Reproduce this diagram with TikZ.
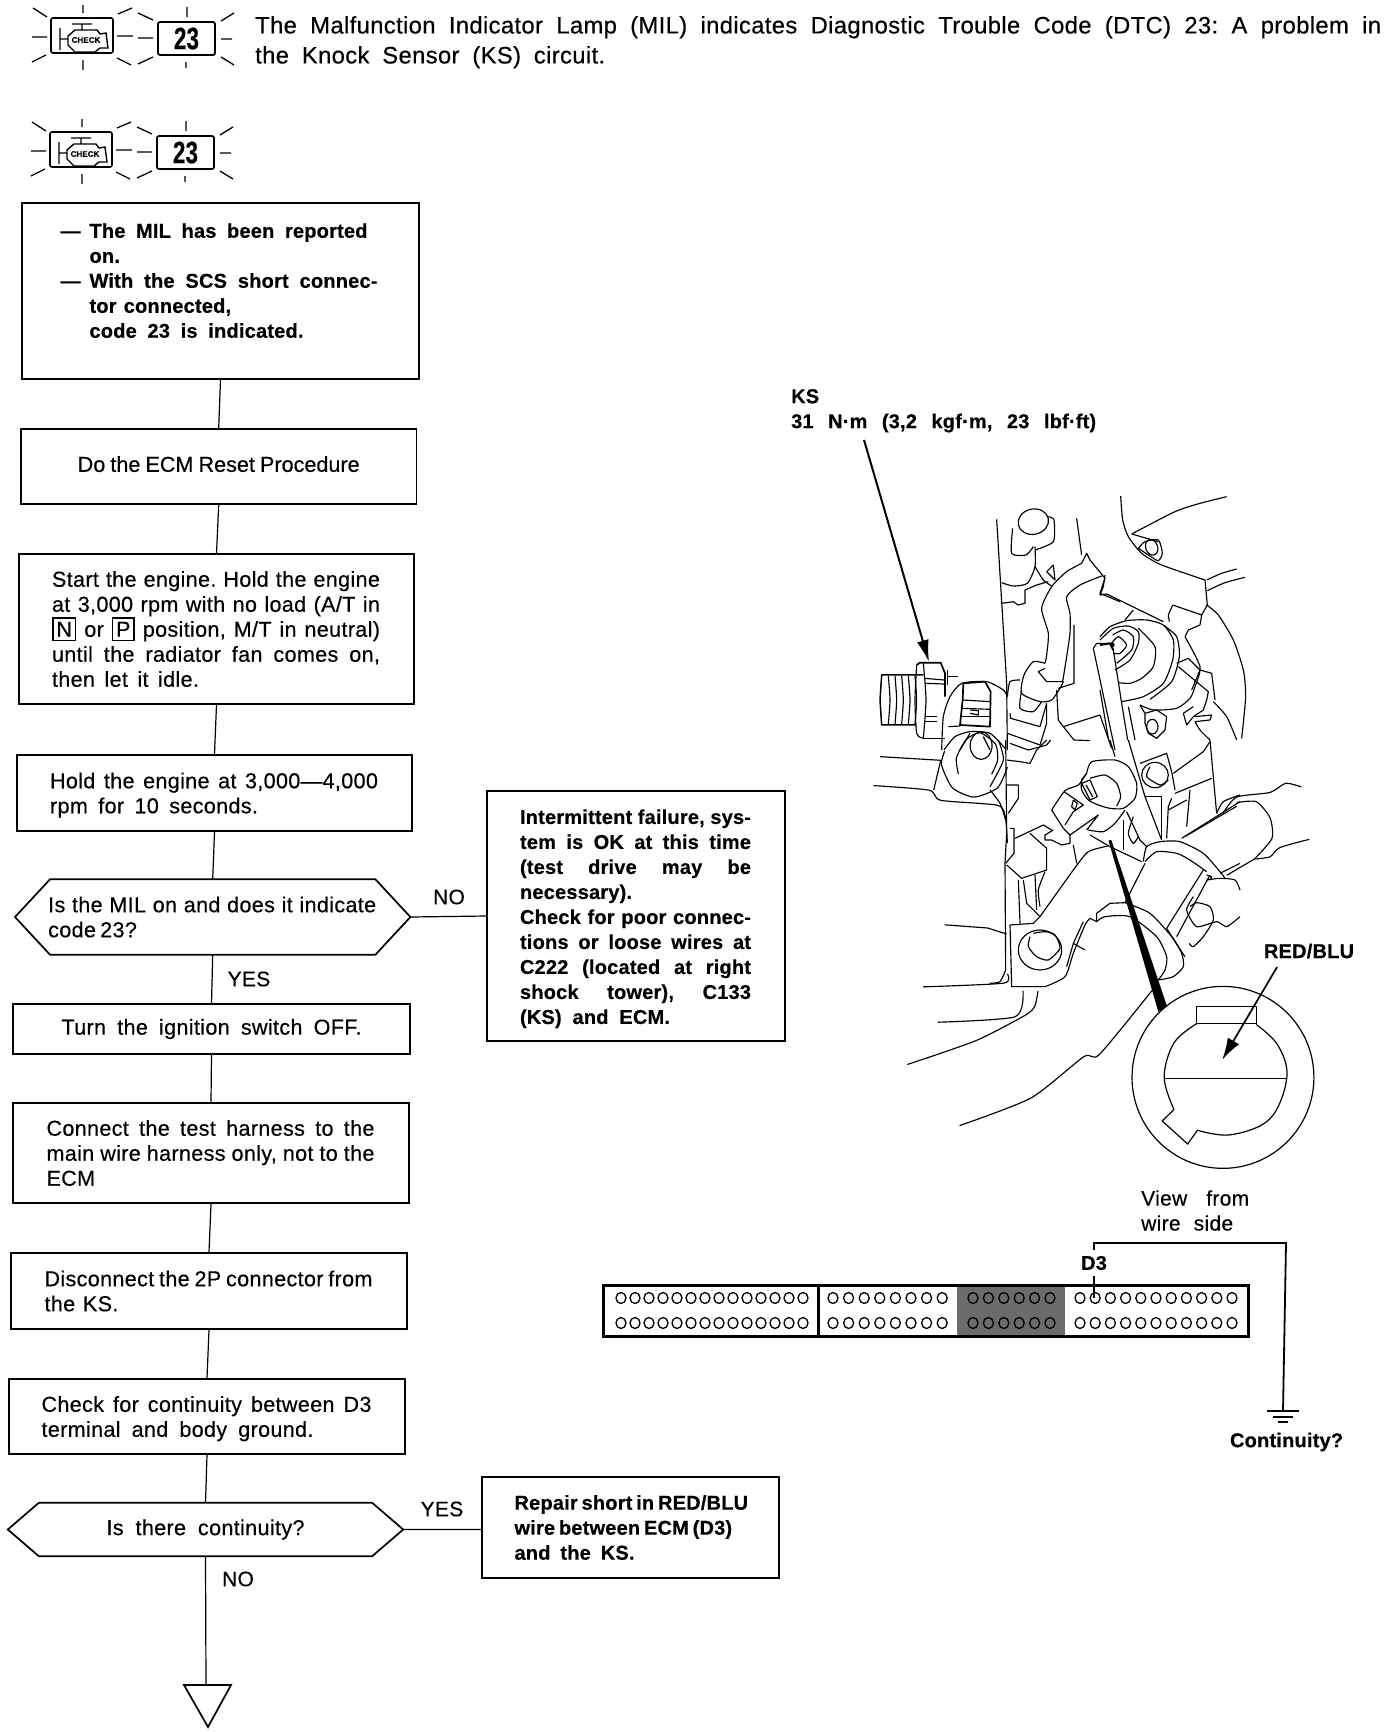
\documentclass[tikz,border=0pt]{standalone}
\usepackage{fontspec}
\setmainfont{Liberation Sans}[LetterSpace=1.5,FakeBold=0.4,BoldFeatures={LetterSpace=1,FakeBold=0.45}]
\usetikzlibrary{arrows.meta,calc}
\newcommand\jl[2]{\makebox[#1pt][s]{\spaceskip=0pt\xspaceskip=0pt\frenchspacing #2}}
\newcommand\kb[1]{{\fboxsep=2.8pt\fboxrule=1.6pt\fbox{#1}}}
\newcommand\dn{\rule{0pt}{20pt}}
\newcommand\wsp{\spaceskip=.36em\xspaceskip=.36em\relax}
\newcommand\il[1]{\draw[ill] plot[smooth,tension=.4] coordinates {#1};}
\newcommand\pl[1]{\draw[ill] plot coordinates {#1};}
\tikzset{
  x=1pt,y=-1pt,
  flow/.style={draw,line width=1.7pt,inner sep=0pt,font=\fontsize{21.6}{25}\selectfont,align=left,execute at begin node=\wsp},
  boldflow/.style={flow,font=\fontsize{20}{25}\bfseries\selectfont},
  hexbody/.style={inner sep=0pt,font=\fontsize{21.6}{25}\selectfont,align=left,execute at begin node=\wsp},
  conn/.style={line width=1.2pt},
  lab/.style={inner sep=0pt,font=\fontsize{21}{25}\selectfont,align=left,execute at begin node=\wsp},
  blab/.style={inner sep=0pt,font=\fontsize{20}{25}\bfseries\selectfont,align=left,execute at begin node=\wsp},
  ray/.style={line width=1.3pt},
  ill/.style={line width=1.15pt,line join=round},
  pin/.style={line width=1.3pt,draw=black},
  milicon/.pic={
    \draw[line width=1.6pt,rounded corners=2pt] (51,18) rectangle (113,53);
    \draw[line width=1.4pt] (72,24)--(92,24) (82,24)--(82,30)
      (60,28)--(60,50) (60,39)--(67,39)
      (68,36)--(75,30)--(97,30)--(100,34)--(106,33)--(108,48)--(100,48)--(95,52)--(75,52)--(68,45)--cycle;
    \node[inner sep=0pt,font=\fontsize{8}{8}\bfseries\selectfont] (chk) at (86,40) {CHECK};
    \draw[line width=1.7pt,rounded corners=2pt] (158,22) rectangle (215,55);
    \node[inner sep=0pt,font=\fontsize{31}{31}\bfseries\selectfont] (num) at (186.5,38.5) {\scalebox{.72}[1]{23}};
    \draw[ray] (83,5)--(83,13) (83,60)--(83,70) (32,37)--(47,37) (117,36)--(133,36)
      (33,8)--(47,17) (118,14)--(132,8) (32,62)--(46,55) (117,58)--(131,65);
    \draw[ray] (187,7)--(187,17) (186,62)--(186,68) (138,38)--(153,38) (221,39)--(232,39)
      (138,13)--(153,20) (221,21)--(234,13) (138,64)--(153,57) (221,57)--(234,65);
  }
}
\begin{document}
\begin{tikzpicture}[x=1pt,y=-1pt]
\useasboundingbox (0,0) rectangle (1392,1732);
% header
\pic (icona) at (0,0) {milicon};
\pic (iconb) at (-1,114) {milicon};
\node[anchor=north west,inner sep=0pt,font=\fontsize{23.8}{30}\selectfont,align=left,text width=1130pt] (head) at (255,16)
 {\jl{1126}{The Malfunction Indicator Lamp (MIL) indicates Diagnostic Trouble Code (DTC) 23: A problem in}\\\jl{350}{the Knock Sensor (KS) circuit.}};
% flow boxes
\node[boldflow,minimum width=397pt,minimum height=176pt,text width=320pt] (b1) at (220.5,291)
 {\makebox[29pt][l]{—}\jl{278}{The MIL has been reported}\\\hspace*{29pt}on.\\\makebox[29pt][l]{—}\jl{288}{With the SCS short connec-}\\\hspace*{29pt}tor connected,\\\hspace*{29pt}\jl{214}{code 23 is indicated.}\\[-4pt]~};
\node[flow,minimum width=395.5pt,minimum height=75pt,align=center] (b2) at (218.7,466.5) {\raisebox{5pt}{\addfontfeature{LetterSpace=0}\jl{282}{Do the ECM Reset Procedure}}};
\node[flow,minimum width=395pt,minimum height=150pt,text width=329pt] (b3) at (216.5,629)
 {\jl{328}{Start the engine. Hold the engine}\\\jl{328}{at 3,000 rpm with no load (A/T in}\\\jl{328}{\kb{N} or \kb{P} position, M/T in neutral)}\\\jl{328}{until the radiator fan comes on,}\\\jl{147}{then let it idle.}};
\node[flow,minimum width=395pt,minimum height=76pt,text width=329pt] (b4) at (214.5,793)
 {\dn\jl{328}{Hold the engine at 3,000—4,000}\\\jl{208}{rpm for 10 seconds.}};
\node[hexbody,minimum width=395pt,minimum height=75pt,text width=329pt] (h1) at (212.7,917)
 {\jl{328}{Is the MIL on and does it indicate}\\\jl{88}{code 23?}};
\draw[line width=1.7pt] (h1.west)--($(h1.north west)+(35,0)$)--($(h1.north east)+(-35,0)$)--(h1.east)--($(h1.south east)+(-35,0)$)--($(h1.south west)+(35,0)$)--cycle;
\node[flow,minimum width=397pt,minimum height=50pt,align=center] (b5) at (211.5,1029) {\raisebox{-2pt}{\jl{300}{Turn the ignition switch OFF.}}};
\node[flow,minimum width=396pt,minimum height=100pt,text width=329pt] (b6) at (211,1153)
 {\jl{328}{Connect the test harness to the}\\\jl{328}{main wire harness only, not to the}\\ECM};
\node[flow,minimum width=396pt,minimum height=76pt,text width=329pt] (b7) at (209,1291)
 {\jl{328}{Disconnect the 2P connector from}\\the KS.};
\node[flow,minimum width=396pt,minimum height=75pt,text width=331pt] (b8) at (207,1416.5)
 {\dn\jl{330}{Check for continuity between D3}\\\jl{272}{terminal and body ground.}};
\node[hexbody,minimum width=395pt,minimum height=53pt,align=center] (h2) at (205.5,1529.5) {\raisebox{-2pt}{\jl{198}{Is there continuity?}}};
\draw[line width=1.7pt] (h2.west)--($(h2.north west)+(31,0)$)--($(h2.north east)+(-31,0)$)--(h2.east)--($(h2.south east)+(-31,0)$)--($(h2.south west)+(31,0)$)--cycle;
\node[boldflow,minimum width=298pt,minimum height=250pt,text width=232pt] (r1) at (636,916)
 {\dn\jl{231}{Intermittent failure, sys-}\\\jl{231}{tem is OK at this time}\\\jl{231}{(test drive may be}\\necessary).\\\jl{231}{Check for poor connec-}\\\jl{231}{tions or loose wires at}\\\jl{231}{C222 (located at right}\\\jl{231}{shock tower), C133}\\\jl{150}{(KS) and ECM.}};
\node[boldflow,minimum width=297pt,minimum height=101pt,text width=232pt] (r2) at (630.5,1527.5)
 {\jl{231}{Repair short in RED/BLU}\\\jl{215}{wire between ECM (D3)}\\\jl{120}{and the KS.}};
% connectors
\coordinate (tt) at (206,1685);
\draw[conn] (b1.south)--(b2.north) (b2.south)--(b3.north) (b3.south)--(b4.north) (b4.south)--(h1.north)
  (h1.south)--(b5.north) (b5.south)--(b6.north) (b6.south)--(b7.north) (b7.south)--(b8.north) (b8.south)--(h2.north)
  (h1.east)--(r1.west) (h2.east)--(h2.east -| r2.west) (h2.south)--(tt);
\draw[line width=1.7pt,line join=miter] ($(tt)+(-22,0)$)--($(tt)+(25,0)$)--($(tt)+(2,42)$)--cycle;
\node[lab] (no1) at (449,897) {NO};
\node[lab] (yes1) at (249,979) {YES};
\node[lab] (yes2) at (442,1509) {YES};
\node[lab] (no2) at (238,1579) {NO};
% KS labels
\node[anchor=north west,blab] (kslab) at (791,389) {KS\\\jl{305}{31 N·m (3,2 kgf·m, 23 lbf·ft)}};
\coordinate (ksa) at (864,440);
\coordinate (ksb) at (929,662);
\draw[line width=2pt,-{Latex[length=22pt,width=12pt]}] (ksa)--(ksb);
% crop A
\begin{scope}[shift={(870,500)},x=.3333pt,y=-.3333pt]
 \pl{(380,58) (410,550) (412,750)}
 \draw[ill,rotate around={12:(490,65)}] (490,65) ellipse [x radius=46,y radius=38];
 \il{(428,85) (425,160) (468,165) (490,140)}
 \il{(535,50) (552,60) (550,125) (495,150)}
 \il{(495,140) (495,200) (472,250) (430,258) (395,248)}
 \il{(495,200) (520,240) (545,258)}
 \pl{(530,215) (550,195) (555,240) (530,215)}
 \pl{(395,310) (430,305) (445,315) (465,310) (465,270) (500,255) (535,245)}
 \pl{(620,55) (635,165)}
 \il{(635,190) (590,215) (545,260) (515,325) (535,400) (530,465) (525,490)}
 \pl{(635,190) (650,160) (660,180) (705,235) (690,280) (750,305)}
 \il{(695,228) (630,255) (590,290) (600,340) (600,400) (590,470) (578,545)}
 \pl{(612,375) (612,550) (565,565)}
 \il{(525,490) (490,485) (462,525) (455,580) (510,605) (545,600) (570,565) (580,545)}
 \pl{(580,545) (530,545) (505,515) (525,505)}
 \il{(455,570) (450,625) (490,635) (515,605)}
 \il{(412,590) (420,545) (450,540)}
 \pl{(420,640) (422,655) (510,680) (530,610)}
 \pl{(530,610) (530,670) (510,735) (412,700)}
 \pl{(560,570) (565,660) (580,680) (690,645) (725,745)}
 \pl{(580,680) (612,720) (660,722)}
 \pl{(730,430) (680,430) (670,445) (735,750)}
 % sensor
 \draw[ill,line width=1.5pt] (160,525)--(35,525)--(30,600)--(35,675)--(140,675);
 \foreach \q in {55,75,95,115,135}{\il{(\q,528) (\q+5,600) (\q,672)}}
 \draw[line width=1.7pt,line join=round] (140,495)--(150,488)--(212,488)--(225,520)--(225,590);
 \il{(140,495) (135,600) (140,700) (160,715)}
 \il{(160,490) (168,600) (160,715)}
 \pl{(160,715) (225,715)}
 \pl{(165,535) (222,540)} \pl{(165,550) (222,552)}
 \pl{(165,650) (200,650)} \pl{(165,665) (200,665)}
 \pl{(232,530) (265,530)} \pl{(232,510) (232,555)}
 \il{(215,750) (220,650) (240,590) (275,550) (350,545) (400,570) (412,590)}
 \draw[line width=1.7pt,line join=round] (280,550)--(345,545)--(362,575)--(360,680)--(270,675)--(278,600)--cycle;
 \pl{(278,600) (360,605)} \pl{(275,625) (360,628)} \pl{(272,650) (360,650)} \pl{(235,680) (270,678)}
 \pl{(300,630) (325,632) (325,645) (300,640)}
 \il{(222,750) (255,710) (300,695) (360,700) (405,745)}
 \il{(270,750) (300,700)} \il{(360,750) (340,710)}
\end{scope}
% crop B
\begin{scope}[shift={(1100,490)},x=.3333pt,y=-.3333pt]
 \il{(62,18) (68,90) (85,140) (125,190) (185,225) (315,270)}
 \il{(95,132) (225,65) (300,40) (380,20)}
 \pl{(95,132) (175,155)}
 \il{(115,175) (135,155) (175,150) (187,190) (175,212) (150,198) (115,175)}
 \draw[ill,rotate around={20:(155,172)}] (155,172) ellipse [x radius=18,y radius=24];
 \il{(320,270) (365,250) (410,237)}
 \il{(322,302) (375,278) (435,262)}
 \pl{(315,270) (322,345) (305,375)}
 \pl{(218,345) (205,375) (208,395)}
 \pl{(218,345) (305,375) (300,405) (265,420) (255,440)}
 \pl{(15,255) (10,290) (0,315) (20,312) (190,395)}
 \pl{(100,360) (75,390)}
 \il{(320,345) (355,375) (400,450) (430,540) (437,620) (425,745)}
 \il{(0,440) (30,410) (80,392) (140,390) (190,405) (220,450) (218,510) (190,580) (130,620) (65,635)}
 \il{(190,405) (230,440) (238,500) (215,575) (150,628)}
 \il{(255,440) (300,530) (285,590) (270,625) (230,655) (160,660) (120,645)}
 \il{(45,540) (90,510) (115,460) (115,425) (85,408) (40,415) (0,450)}
 \il{(115,415) (165,470) (160,530) (125,565) (90,580) (55,578)}
 \il{(38,435) (70,420) (100,440) (95,480) (50,520)}
 \il{(30,465) (55,440) (80,465) (60,490) (40,490)}
 \draw[ill,line width=2pt] (0,465)--(30,460)--(40,480);
 \fill (37,465) circle [x radius=7,y radius=7];
 \pl{(40,480) (65,640) (83,750)}
 \pl{(0,600) (25,745)}
 \pl{(85,650) (105,750)}
 \pl{(230,520) (265,505) (300,540) (275,600)}
 \pl{(235,530) (325,605) (320,630) (310,660) (280,680) (260,705) (250,670) (280,650)}
 \pl{(300,540) (335,550) (345,630)}
 \il{(340,635) (380,680) (410,750)}
 \pl{(285,680) (335,675) (330,690) (285,695)}
 \il{(285,695) (300,720) (330,750)}
 \pl{(135,670) (170,660) (200,680) (195,720) (170,745) (145,730) (135,700) (135,670)}
 \draw[ill] (157,710) ellipse [x radius=17,y radius=22];
 \pl{(120,645) (135,670)}
\end{scope}
% crop C
\begin{scope}[shift={(990,740)},x=.3333pt,y=-.3333pt]
 \pl{(47,0) (50,280) (45,370) (47,690)}
 \il{(47,690) (30,725) (0,730)}
 \il{(25,0) (40,60) (0,140)}
 \il{(0,150) (30,190) (47,240)}
 \pl{(48,135) (85,135) (85,175) (55,220)}
 \pl{(60,265) (72,265) (72,340) (47,370)}
 \pl{(50,60) (90,65) (120,70) (140,30) (170,0)}
 \pl{(60,10) (115,30) (170,15) (182,0)}
 \il{(185,210) (225,152) (265,135) (290,100)}
 \il{(290,100) (305,65) (375,60) (415,80) (440,130) (435,175) (400,205) (360,205) (325,195) (295,180) (275,150) (275,120) (290,100)}
 \il{(300,115) (345,105) (380,130) (392,170) (380,198)}
 \pl{(275,130) (300,120) (322,170) (300,180) (275,130)}
 \pl{(288,135) (308,170)}
 \pl{(185,210) (220,265)}
 \pl{(222,155) (280,195) (250,215) (225,255)}
 \pl{(250,180) (262,190) (255,210) (245,200) (250,180)}
 \pl{(220,265) (240,285) (325,225) (290,270)}
 \pl{(240,285) (240,310) (215,315) (185,300) (165,300) (165,285) (190,270)}
 \il{(295,270) (340,275) (375,250) (405,210)}
 \pl{(75,295) (160,255) (185,270)}
 \pl{(120,280) (170,325) (170,390) (95,415) (50,375)}
 \pl{(250,315) (260,370)}
 \pl{(300,285) (360,320) (455,365)}
 \il{(150,530) (250,390) (295,335) (355,318)}
 \pl{(60,555) (130,550) (150,530)}
 \pl{(60,555) (65,740) (165,740)}
 \il{(165,740) (225,710) (250,640) (285,555) (300,535)}
 \pl{(300,535) (320,545) (320,520) (360,490) (405,488)}
 \pl{(405,488) (465,370)}
 \il{(460,365) (470,320) (510,305) (570,305) (640,340) (690,395) (705,415)}
 \il{(465,365) (500,335) (560,340) (600,360) (650,395)}
 \pl{(640,390) (530,565)}
 \pl{(660,405) (560,590)}
 \il{(405,488) (480,520) (545,590) (575,640) (580,680) (550,710) (505,720)}
 \il{(530,565) (565,620) (585,650)}
 \il{(320,545) (345,530) (420,530) (500,590) (530,650) (525,690) (505,720)}
 \draw[ill] (150,630) ellipse [x radius=65,y radius=60];
 \il{(120,590) (115,620) (140,650) (175,660) (210,625) (195,585) (165,575) (130,580)}
 \pl{(250,610) (285,630)}
 \pl{(280,545) (250,610) (230,680)}
 \pl{(690,400) (750,370)}
 \il{(650,420) (690,415) (735,420) (750,450)}
 \il{(610,470) (590,510) (620,560) (680,545) (710,560) (750,530)}
 \il{(600,500) (620,488) (660,500) (670,540) (640,590) (610,620) (598,610)}
 \pl{(650,405) (665,410) (660,420)}
 \pl{(450,70) (530,40) (545,95) (555,150)}
 \il{(480,80) (470,110) (510,135) (535,120)}
 \draw[ill] (495,105) ellipse [x radius=40,y radius=38];
 \pl{(415,0) (465,170) (515,300)}
 \pl{(360,0) (375,50)}
 \pl{(530,295) (535,200) (545,175)}
 \pl{(515,300) (515,170) (465,170)}
 \pl{(550,100) (640,35) (660,5)}
 \pl{(555,160) (665,115)}
 \pl{(590,260) (600,150)}
 \pl{(535,210) (590,180)}
 \pl{(575,295) (750,185)}
 \il{(680,220) (700,185) (750,165)}
 \pl{(660,0) (680,220)}
 \pl{(410,215) (450,300) (470,320)}
 \pl{(400,240) (400,330)}
 \il{(430,230) (415,280) (430,310) (445,290)}
 \pl{(85,420) (90,550)}
 \pl{(100,420) (110,490) (150,530)}
 \pl{(135,405) (140,510)}
 \il{(165,395) (145,450) (150,500)}
\end{scope}
% remaining illustration and detail circle
\begin{scope}[shift={(780,480)},x=.392pt,y=-.4595pt]
 \il{(580,1075) (570,1095) (365,1103)}
 \il{(420,590) (412,620) (440,670) (495,690) (555,670) (580,625)}
 \il{(455,640) (450,605) (475,565) (510,550) (550,575) (555,610) (540,640)}
 \draw[ill] (513,578) ellipse [x radius=28,y radius=30];
 \pl{(255,602) (410,610) (392,675)}
 \il{(238,665) (380,675) (410,697) (555,708) (575,735) (580,790)}
 \il{(1130,725) (1165,690) (1250,680) (1290,660) (1330,668)}
 \il{(1165,702) (1215,700) (1250,735) (1255,780) (1210,825)}
 \il{(1210,825) (1250,820) (1275,800) (1350,782)}
 \pl{(1035,775) (1165,710)}
 \pl{(1140,860) (1210,825)}
 \pl{(420,968) (530,975) (578,988)}
 \il{(403,1180) (600,1168) (620,1112)}
 \il{(325,1272) (500,1220) (625,1165) (650,1145) (658,1112)}
 \il{(458,1405) (640,1345) (775,1255) (815,1250) (950,1110)}
 \draw[line width=1.2pt] (1130,1300) ellipse [x radius=232,y radius=198];
 \draw[line width=1.2pt] (1063,1145) rectangle (1215,1183);
 \draw[line width=1.2pt] (980,1302)--(1293,1302);
 \draw[line width=1.2pt] plot[smooth,tension=.6] coordinates {(1063,1183) (1005,1225) (980,1300) (1005,1370)};
 \draw[line width=1.2pt] (1005,1370)--(975,1395)--(1040,1445)--(1065,1415);
 \draw[line width=1.2pt] plot[smooth,tension=.6] coordinates {(1065,1415) (1150,1425) (1250,1390) (1293,1300) (1270,1230) (1215,1185)};
 \fill[black] (838,785)--(845,783)--(987,1145)--(965,1157)--cycle;
 \coordinate (rba) at (1268,1060);
 \coordinate (rbb) at (1128,1262);
 \draw[line width=1.7pt,-{Latex[length=22pt,width=13pt]}] (rba)--(rbb);
\end{scope}
\node[blab] (redblu) at (1309,951) {RED/BLU};
% connector strip
\node[lab,anchor=west] (view) at (1141,1198) {\jl{108}{View from}};
\node[lab,anchor=west] (wire) at (1141,1223) {\jl{92}{wire side}};
\fill[black!58] (957,1285) rectangle (1065,1336);
\draw[line width=3pt] (603,1285) rectangle (1248,1336);
\draw[line width=3pt] (818,1285)--(818,1336);
\foreach \r in {1298,1323}{
  \foreach \i in {0,...,13}{\draw[pin] ({621+14.0*\i},\r) ellipse [x radius=5,y radius=5.5];}
  \foreach \i in {0,...,7}{\draw[pin] ({833+15.6*\i},\r) ellipse [x radius=5,y radius=5.5];}
  \foreach \i in {0,...,5}{\draw[pin] ({973+15.4*\i},\r) ellipse [x radius=5,y radius=5.5];}
  \foreach \i in {0,...,10}{\draw[pin] ({1080+15.2*\i},\r) ellipse [x radius=5,y radius=5.5];}
}
\node[blab,outer sep=6pt] (d3) at (1094,1263) {D3};
\coordinate (pind) at (1094,1298);
\coordinate (corner) at (1094,1243);
\coordinate (bend) at (1286,1243);
\coordinate (gnd) at (1283,1411);
\draw[line width=1.8pt] (pind)--(d3.south) (d3.north)--(corner)--(bend)--(gnd);
\draw[line width=1.8pt] (1267,1411)--(1299,1411) (1273,1417)--(1293,1417) (1278,1422)--(1288,1422);
\node[blab] (cont) at (1288,1442) {\jl{116}{Continuity?}};
\end{tikzpicture}
\end{document}
